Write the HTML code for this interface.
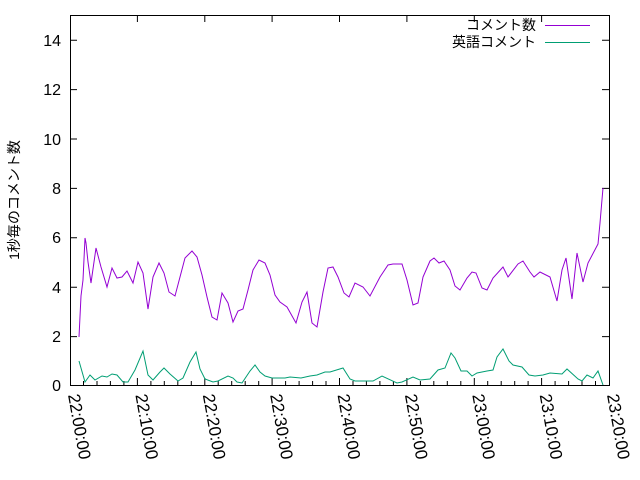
<!DOCTYPE html>
<html><head><meta charset="utf-8"><style>body{margin:0;background:#fff}svg{display:block}text{font-family:"Liberation Sans","Noto Sans CJK JP",sans-serif;fill:#000}</style></head><body>
<svg width="640" height="480" viewBox="0 0 640 480" xmlns="http://www.w3.org/2000/svg">
<rect width="640" height="480" fill="#fff"/>
<g stroke="#000" stroke-width="1" fill="none">
<rect x="70.5" y="15.5" width="539" height="370"/>
<path d="M70 336.6h7M70 287.2h7M70 237.8h7M70 188.4h7M70 139h7M70 89.6h7M70 40.2h7M609 336.6h-7M609 287.2h-7M609 237.8h-7M609 188.4h-7M609 139h-7M609 89.6h-7M609 40.2h-7"/>
<path d="M137.4 385v-7M204.8 385v-7M272.1 385v-7M339.5 385v-7M406.9 385v-7M474.3 385v-7M541.6 385v-7M137.4 15v7M204.8 15v7M272.1 15v7M339.5 15v7M406.9 15v7M474.3 15v7M541.6 15v7"/>
<path d="M83.5 385v-4M97 385v-4M110.4 385v-4M123.9 385v-4M150.9 385v-4M164.3 385v-4M177.8 385v-4M191.3 385v-4M218.2 385v-4M231.7 385v-4M245.2 385v-4M258.7 385v-4M285.6 385v-4M299.1 385v-4M312.6 385v-4M326 385v-4M353 385v-4M366.4 385v-4M379.9 385v-4M393.4 385v-4M420.4 385v-4M433.8 385v-4M447.3 385v-4M460.8 385v-4M487.7 385v-4M501.2 385v-4M514.7 385v-4M528.1 385v-4M555.1 385v-4M568.6 385v-4M582 385v-4M595.5 385v-4"/>
</g>
<g font-size="16" text-anchor="end">
<text x="61" y="391">0</text><text x="61" y="342">2</text><text x="61" y="293">4</text><text x="61" y="243">6</text><text x="61" y="194">8</text><text x="61" y="145">10</text><text x="61" y="95">12</text><text x="61" y="46">14</text>
</g>
<g font-size="17">
<text transform="translate(68,395) rotate(80)">22:00:00</text>
<text transform="translate(135.4,395) rotate(80)">22:10:00</text>
<text transform="translate(202.8,395) rotate(80)">22:20:00</text>
<text transform="translate(270.1,395) rotate(80)">22:30:00</text>
<text transform="translate(337.5,395) rotate(80)">22:40:00</text>
<text transform="translate(404.9,395) rotate(80)">22:50:00</text>
<text transform="translate(472.3,395) rotate(80)">23:00:00</text>
<text transform="translate(539.6,395) rotate(80)">23:10:00</text>
<text transform="translate(607,395) rotate(80)">23:20:00</text>
</g>
<text font-size="14" text-anchor="middle" transform="translate(19,200) rotate(-90)">1秒毎のコメント数</text>
<text font-size="14" x="536" y="30" text-anchor="end">コメント数</text>
<text font-size="14" x="536" y="47" text-anchor="end">英語コメント</text>
<path d="M545 25.5h45" stroke="#9400d3"/>
<path d="M545 42.5h45" stroke="#009e73"/>
<polyline fill="none" stroke="#9400d3" stroke-width="1" points="79,337 81,296 83,280 85,238 86,243 88,262 91,283 96,248 101,267 107,287 112,268 117,278 122,277 127,271 133,283 138,262 143,273 148,309 153,277 159,263 164,273 169,292 175,296 180,277 185,258 192,251 197,257 202,275 207,297 212,317 217,320 222,293 228,303 233,322 238,311 243,309 248,290 253,270 259,260 265,263 270,275 275,295 280,302 287,307 296,323 302,302 307,292 312,323 317,327 323,292 328,268 333,267 338,277 344,293 349,297 355,283 363,287 370,296 380,277 388,265 393,264 402,264 407,280 413,305 418,303 423,277 430,261 434,258 439,263 444,261 450,270 455,286 460,290 467,278 472,272 476,273 482,288 487,290 493,278 503,267 508,277 518,264 523,261 530,272 534,277 540,272 550,277 557,301 562,270 566,258 572,299 577,253 583,282 588,263 598,244 600,223 603,188"/>
<polyline fill="none" stroke="#009e73" stroke-width="1" points="79,361 85,382 90,375 95,380 102,376 107,377 112,374 117,375 123,382 128,382 135,370 143,351 148,375 153,380 160,372 164,368 170,374 178,381 183,378 190,362 196,352 200,369 205,379 213,382 218,381 228,376 233,378 237,382 242,383 250,371 255,365 260,372 265,376 272,378 285,378 290,377 301,378 310,376 317,375 325,372 330,372 343,368 350,379 355,381 373,381 382,376 397,383 402,382 413,377 420,380 430,379 438,370 445,368 451,353 455,358 461,371 467,371 472,376 477,373 487,371 493,370 497,357 503,349 509,361 513,365 522,367 529,375 535,376 543,375 550,373 562,374 567,369 578,379 582,381 587,375 593,378 598,371 603,385"/>
</svg>
</body></html>
